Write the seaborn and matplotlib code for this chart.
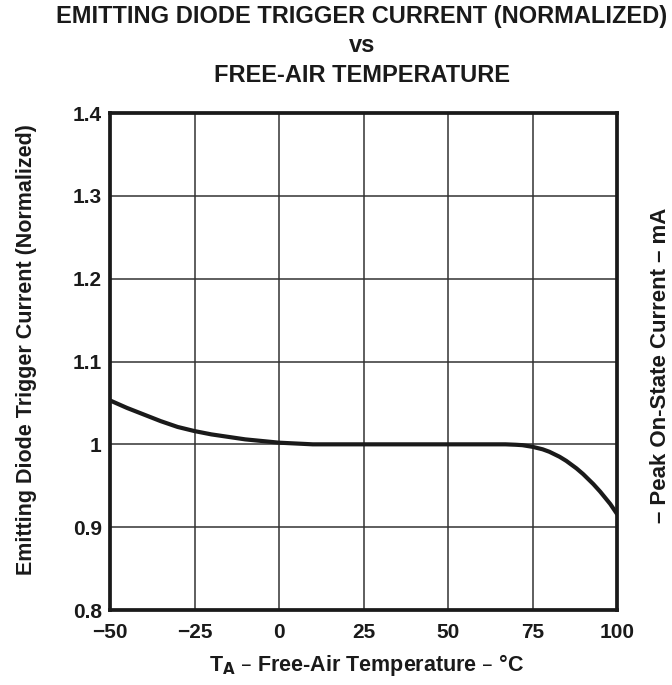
import numpy as np
import pandas as pd
import matplotlib
matplotlib.use("Agg")
import matplotlib.pyplot as plt
import seaborn as sns

# curve
temp = [-50, -45, -40, -35, -30, -25, -20, -15, -10, -5, 0, 5, 10, 20, 30, 40, 50, 60, 67,
        70, 72, 75, 78, 80, 83, 85, 88, 90, 93, 95, 98, 100]
current = [1.053, 1.044, 1.036, 1.028, 1.021, 1.016, 1.012, 1.009, 1.006, 1.004, 1.002, 1.001, 1.000,
           1.000, 1.000, 1.000, 1.000, 1.000, 1.000, 0.9995, 0.999, 0.997, 0.994, 0.991, 0.985, 0.980,
           0.971, 0.964, 0.952, 0.943, 0.928, 0.916]
xticks = [-50, -25, 0, 25, 50, 75, 100]
xticklabels = ["\u221250", "\u221225", "0", "25", "50", "75", "100"]
yticks = [0.8, 0.9, 1.0, 1.1, 1.2, 1.3, 1.4]
yticklabels = ["0.8", "0.9", "1", "1.1", "1.2", "1.3", "1.4"]

df = pd.DataFrame({"T": temp, "I": current})

sns.set_style("white")
plt.rcParams['font.family'] = ['Liberation Sans', 'DejaVu Sans']
plt.rcParams['font.weight'] = 'bold'
ink = "#1a1a1a"

fig = plt.figure(figsize=(6.72, 6.85), dpi=100)
ax = fig.add_axes([110/672, 1 - 610/685, 507/672, 497/685])

sns.lineplot(data=df, x="T", y="I", ax=ax, color=ink, linewidth=3, estimator=None)

ax.set_xlim(-50, 100)
ax.set_ylim(0.8, 1.4)
ax.set_xticks(xticks)
ax.set_xticklabels(xticklabels, fontsize=15, fontweight='bold', color=ink)
ax.set_yticks(yticks)
ax.set_yticklabels(yticklabels, fontsize=15, fontweight='bold', color=ink)
ax.tick_params(axis='x', length=0, pad=9)
ax.tick_params(axis='y', length=0, pad=6)
ax.grid(True, color="#333333", linewidth=1.1)
for s in ax.spines.values():
    s.set_visible(True)
    s.set_color(ink)
    s.set_linewidth(2.7)
ax.set_xlabel("")
ax.set_ylabel("")

fig.text(27/672, 1 - 350/685, "Emitting Diode Trigger Current (Normalized)", rotation=90,
         ha="center", va="center", fontsize=15.5, fontweight='bold', color=ink)
fig.text(367/672, 1 - 665/685, "T$_\\mathbf{A}$ \u2013 Free-Air Temperature \u2013 \u00b0C",
         ha="center", va="center", fontsize=15.5, fontweight='bold', color=ink)
# partly outside the frame in the source; kept just inside here
fig.text(660/672, 1 - 365/685, "\u2013 Peak On-State Current \u2013 mA", rotation=90,
         ha="center", va="center", fontsize=16, fontweight='bold', color=ink)

fig.text(362/672, 1 - 17/685, "EMITTING DIODE TRIGGER CURRENT (NORMALIZED)",
         ha="center", va="center", fontsize=17, fontweight='bold', color=ink)
fig.text(362/672, 1 - 46/685, "vs", ha="center", va="center", fontsize=17, fontweight='bold', color=ink)
fig.text(362/672, 1 - 76/685, "FREE-AIR TEMPERATURE",
         ha="center", va="center", fontsize=17, fontweight='bold', color=ink)

fig.savefig("out.png", dpi=100)
